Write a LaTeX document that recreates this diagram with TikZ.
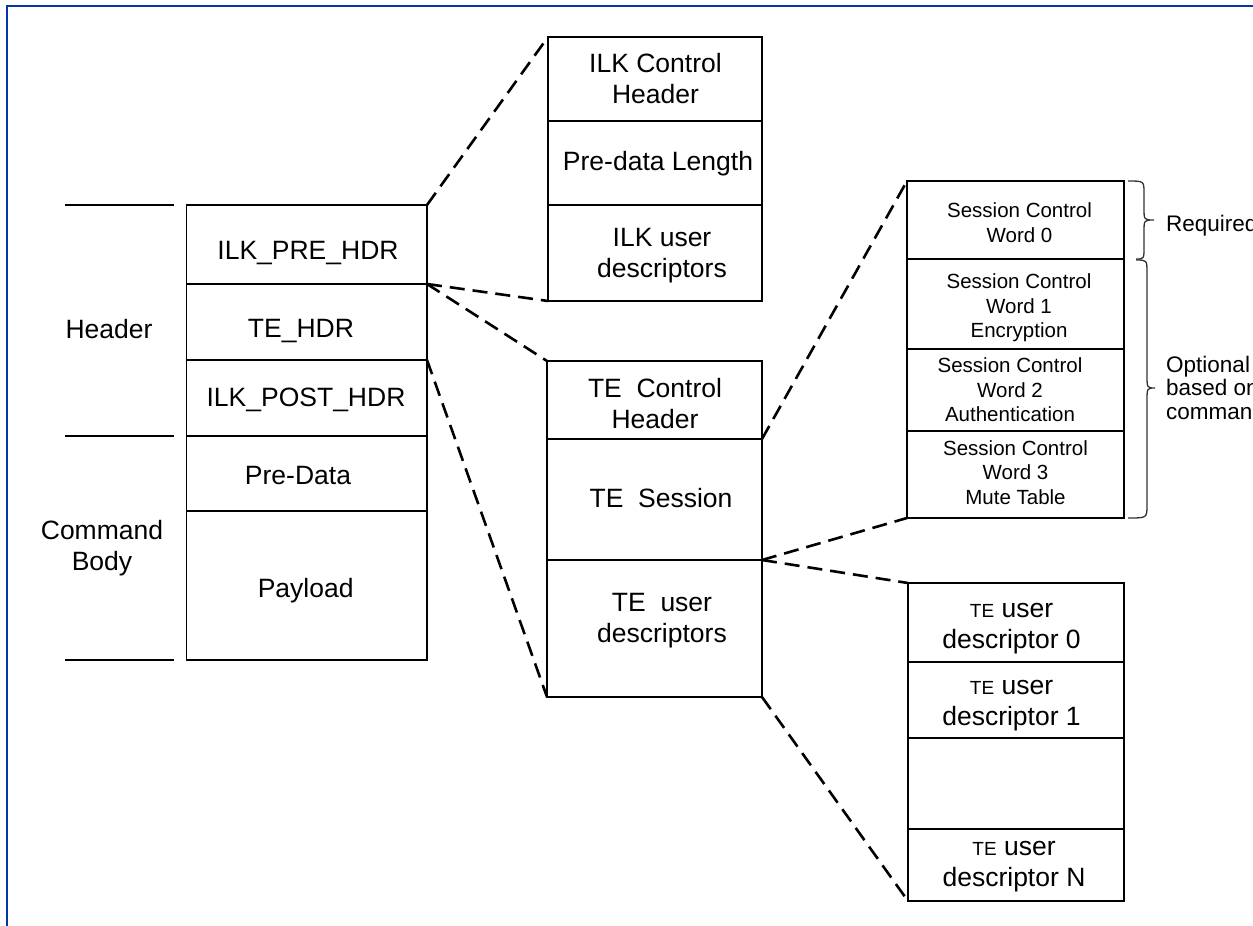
\documentclass[tikz,border=0pt]{standalone}
\usepackage{fontspec}
\setmainfont{Liberation Sans}
\definecolor{frameblue}{RGB}{0,56,168}
\newcommand{\fsmain}{\fontsize{26.5}{31}\selectfont}
\newcommand{\fssess}{\fontsize{20.5}{24.5}\selectfont}
\newcommand{\fsnote}{\fontsize{22.5}{23.5}\selectfont}
\newcommand{\fste}{\fontsize{19}{31}\selectfont}
\tikzset{
  cell/.style={draw, line width=1.8pt, inner sep=0pt, outer sep=0pt},
  txt/.style={inner sep=0pt, font=\fsmain, align=center},
  stxt/.style={inner sep=0pt, font=\fssess, align=center},
  ntxt/.style={inner sep=0pt, font=\fsnote, align=left},
  dline/.style={line width=2.6pt, dash pattern=on 15pt off 8pt},
  tick/.style={line width=1.8pt},
  bracel/.style={line width=1.3pt, black!80}
}
\begin{document}
\begin{tikzpicture}[x=1pt,y=-1pt]
\useasboundingbox (0,0) rectangle (1253,926);
\begin{scope}
\clip (0,0) rectangle (1253,926);
% frame
\draw[frameblue, line width=2.6pt] (7,930) -- (7,6) -- (1260,6);

% left column
\node[cell, minimum width=240.5, minimum height=79] (pre) at (306.75,244.5) {};
\node[cell, minimum width=240.5, minimum height=76] (tehdr) at (306.75,322) {};
\node[cell, minimum width=240.5, minimum height=76] (post) at (306.75,398) {};
\node[cell, minimum width=240.5, minimum height=75] (predata) at (306.75,473.5) {};
\node[cell, minimum width=240.5, minimum height=149] (payload) at (306.75,585.5) {};
\node[txt, anchor=base] (tpre) at (308,259) {ILK\_PRE\_HDR};
\node[txt, anchor=base] (ttehdr) at (301,337) {TE\_HDR};
\node[txt, anchor=base] (tpost) at (306,406) {ILK\_POST\_HDR};
\node[txt, anchor=base] (tpredata) at (298,484) {Pre-Data};
\node[txt, anchor=base] (tpayload) at (305.7,597) {Payload};

\coordinate (l1a) at (65,205); \coordinate (l1b) at (174,205);
\coordinate (l2a) at (65,436); \coordinate (l2b) at (174,436);
\coordinate (l3a) at (65,660); \coordinate (l3b) at (174,660);
\draw[tick] (l1a) -- (l1b);
\draw[tick] (l2a) -- (l2b);
\draw[tick] (l3a) -- (l3b);
\node[txt, anchor=base] (theader) at (109,338) {Header};
\node[txt] (tbody) at (102,547.8) {Command\\Body};

% ILK box
\node[cell, minimum width=214, minimum height=84] (ilkh) at (655,79) {};
\node[cell, minimum width=214, minimum height=84] (ilkl) at (655,163) {};
\node[cell, minimum width=214, minimum height=96] (ilku) at (655,253) {};
\node[txt] (tilkh) at (655.5,78.5) {ILK Control\\Header};
\node[txt, anchor=base] (tilkl) at (658,170) {Pre-data Length};
\node[txt] (tilku) at (662,255.2) {ILK user\\descriptors};

% TE box
\node[cell, minimum width=215, minimum height=78] (tec) at (654.5,400) {};
\node[cell, minimum width=215, minimum height=121] (tes) at (654.5,499.5) {};
\node[cell, minimum width=215, minimum height=137] (teu) at (654.5,628.5) {};
\node[txt] (ttec) at (655,403.5) {TE\ \ Control\\Header};
\node[txt, anchor=base] (ttes) at (661,507) {TE\ \ Session};
\node[txt] (tteu) at (662,620.8) {TE\ \ user\\descriptors};

% session words
\node[cell, minimum width=217, minimum height=78] (sw0) at (1015.5,220) {};
\node[cell, minimum width=217, minimum height=90] (sw1) at (1015.5,304) {};
\node[cell, minimum width=217, minimum height=82] (sw2) at (1015.5,390) {};
\node[cell, minimum width=217, minimum height=87] (sw3) at (1015.5,474.5) {};
\node[stxt] (tsw0) at (1019.5,222.5) {Session Control\\Word 0};
\node[stxt] (tsw1) at (1019,307.8) {Session Control\\Word 1\\Encryption};
\node[stxt] (tsw2) at (1010,390) {Session Control\\Word 2\\Authentication};
\node[stxt] (tsw3) at (1015.5,472.5) {Session Control\\Word 3\\Mute Table};

% descriptors
\node[cell, minimum width=216, minimum height=79] (d0) at (1016,622.5) {};
\node[cell, minimum width=216, minimum height=76] (d1) at (1016,700) {};
\node[cell, minimum width=216, minimum height=91] (d2) at (1016,783.5) {};
\node[cell, minimum width=216, minimum height=72] (dN) at (1016,865) {};
\node[txt] (td0) at (1011.5,628.3) {{\fste TE} user\\descriptor 0};
\node[txt] (td1) at (1011.5,705.4) {{\fste TE} user\\descriptor 1};
\node[txt] (tdN) at (1014,866.7) {{\fste TE} user\\descriptor N};

% dashed connectors
\draw[dline] (pre.north east) -- (ilkh.north west);
\draw[dline] (pre.south east) -- (ilku.south west);
\draw[dline] (pre.south east) -- (tec.north west);
\draw[dline] (tehdr.south east) -- (teu.south west);
\draw[dline] (tec.south east) -- (sw0.north west);
\draw[dline] (tes.south east) -- (sw3.south west);
\draw[dline] (tes.south east) -- (d0.north west);
\draw[dline] (teu.south east) -- (dN.south west);

% braces
\coordinate (b1s) at (1128,181);
\coordinate (b1e) at (1136,259);
\coordinate (b1t) at (1154,220);
\draw[bracel] (b1s) .. controls (1144,181) .. (1144,193) -- (1144,208)
  .. controls (1144,220) .. (b1t) .. controls (1144,220) .. (1144,232)
  -- (1144,247) .. controls (1144,259) .. (b1e);
\coordinate (b2s) at (1136,260);
\coordinate (b2e) at (1128,518);
\coordinate (b2t) at (1155,388);
\draw[bracel] (b2s) .. controls (1147,260) .. (1147,273) -- (1147,375)
  .. controls (1147,388) .. (b2t) .. controls (1147,388) .. (1147,401)
  -- (1147,505) .. controls (1147,518) .. (b2e);
\node[ntxt, anchor=base west] (treq) at (1166,231) {Required};
\node[ntxt, anchor=west] (topt) at (1166,387.5) {Optional\\based on\\command};
\end{scope}
\end{tikzpicture}
\end{document}
